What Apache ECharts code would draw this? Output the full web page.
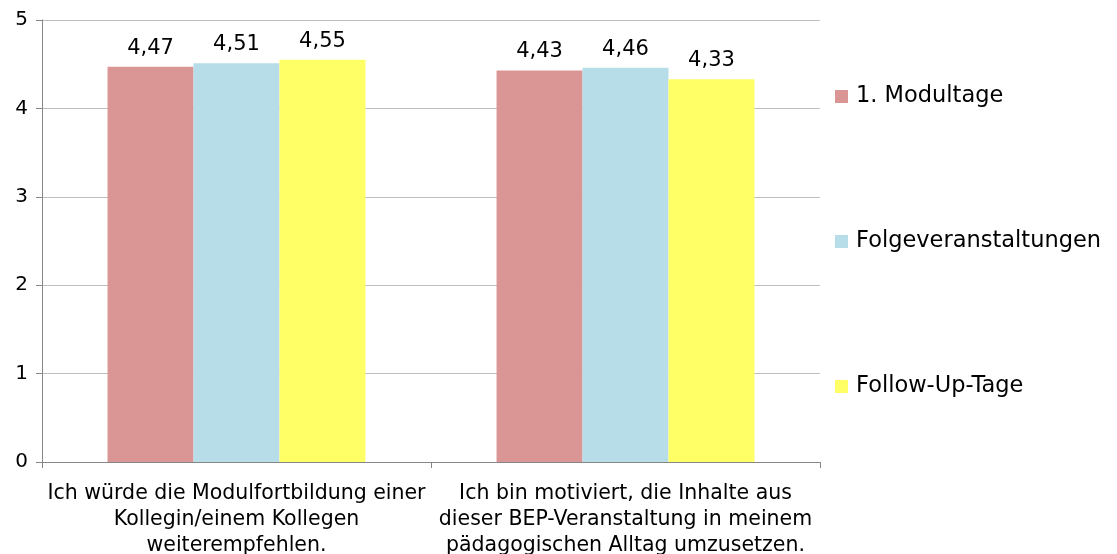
<!DOCTYPE html>
<html>
<head>
<meta charset="utf-8">
<script src="https://cdn.jsdelivr.net/npm/echarts@6/dist/echarts.min.js"></script>
<style>
  html, body { margin: 0; padding: 0; background: #fff; }
  #main { width: 1117px; height: 554px; }
</style>
</head>
<body>
<div id="main"></div>
<script>
// Daten
var categories = [
    'Ich würde die Modulfortbildung einer\nKollegin/einem Kollegen\nweiterempfehlen.',
    'Ich bin motiviert, die Inhalte aus\ndieser BEP-Veranstaltung in meinem\npädagogischen Alltag umzusetzen.'
];
var seriesNames = ['1. Modultage', 'Folgeveranstaltungen', 'Follow-Up-Tage'];
var modultage = [4.47, 4.43];
var folgeveranstaltungen = [4.51, 4.46];
var followUpTage = [4.55, 4.33];
var colors = ['#D99694', '#B7DEE8', '#FFFF66'];

var font = '"DejaVu Sans", sans-serif';

var myChart = echarts.init(document.getElementById('main'));

function makeSeries(name, data, color) {
    return {
        name: name,
        type: 'bar',
        data: data,
        barGap: '0%',
        barCategoryGap: '33.7%',
        itemStyle: { color: color },
        label: {
            show: true,
            position: 'top',
            distance: 8,
            color: '#000',
            fontFamily: font,
            fontSize: 21,
            formatter: function (p) { return p.value.toFixed(2).replace('.', ','); }
        }
    };
}

var option = {
    animation: false,
    backgroundColor: '#fff',
    color: colors,
    grid: { left: 42, right: 297, top: 20, bottom: 92, containLabel: false, outerBoundsMode: 'none' },
    legend: {
        orient: 'vertical',
        left: 835,
        top: 85,
        padding: 0,
        itemWidth: 13,
        itemHeight: 13,
        itemGap: 122,
        icon: 'rect',
        textStyle: { fontFamily: font, fontSize: 22.5, color: '#000', padding: [0, 0, 0, 3] },
        data: seriesNames
    },
    xAxis: {
        type: 'category',
        data: categories,
        axisLine: { lineStyle: { color: '#868686' } },
        axisTick: { show: true, length: 6, lineStyle: { color: '#868686' } },
        axisLabel: {
            fontFamily: font,
            fontSize: 20.5,
            color: '#000',
            lineHeight: 26,
            margin: 19,
            interval: 0
        }
    },
    yAxis: {
        type: 'value',
        min: 0,
        max: 5,
        interval: 1,
        axisLine: { show: true, lineStyle: { color: '#868686' } },
        axisTick: { show: true, length: 6, lineStyle: { color: '#868686' } },
        splitLine: { lineStyle: { color: '#BFBFBF' } },
        axisLabel: { fontFamily: font, fontSize: 20, color: '#000', margin: 14 }
    },
    series: [
        makeSeries(seriesNames[0], modultage, colors[0]),
        makeSeries(seriesNames[1], folgeveranstaltungen, colors[1]),
        makeSeries(seriesNames[2], followUpTage, colors[2])
    ]
};

myChart.setOption(option);
</script>
</body>
</html>
